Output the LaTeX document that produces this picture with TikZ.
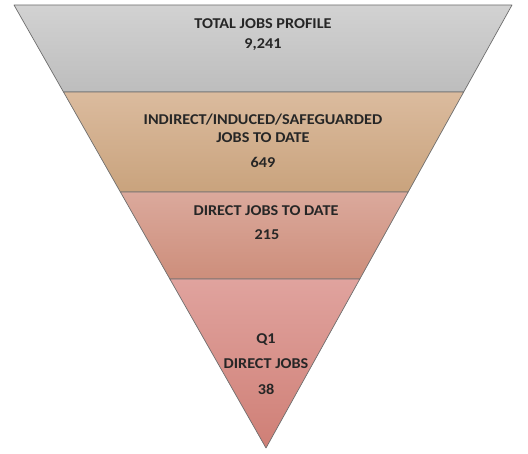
\documentclass[tikz,border=0pt]{standalone}
\usepackage{fontspec}
\setmainfont{Carlito}
\usetikzlibrary{calc}

\definecolor{grayTop}{HTML}{D2D2D2}
\definecolor{grayBot}{HTML}{BDBDBD}
\definecolor{tanTop}{HTML}{DBBB9E}
\definecolor{tanBot}{HTML}{C9A37D}
\definecolor{roseTop}{HTML}{DBA99C}
\definecolor{roseBot}{HTML}{CD8E7B}
\definecolor{pinkTop}{HTML}{E0A39E}
\definecolor{pinkBot}{HTML}{CF7F76}
\definecolor{edgeGray}{HTML}{6E6E6E}

\tikzset{
  band/.style={draw=edgeGray, line width=0.7pt, line join=round},
  lbl/.style={font=\bfseries\fontsize{15}{17}\selectfont, text=black!85, inner sep=0pt, align=center, xscale=1.08, transform shape}
}

\begin{document}
\begin{tikzpicture}[x=1pt,y=-1pt]
    \useasboundingbox (0,0) rectangle (528,454);

    \coordinate (TL) at (14,5);
    \coordinate (TR) at (512,5);
    \coordinate (V) at (266,448);

    \coordinate (L1) at ($(TL)!0.1964!(V)$);
    \coordinate (R1) at ($(TR)!0.1964!(V)$);
    \coordinate (L2) at ($(TL)!0.4221!(V)$);
    \coordinate (R2) at ($(TR)!0.4221!(V)$);
    \coordinate (L3) at ($(TL)!0.6185!(V)$);
    \coordinate (R3) at ($(TR)!0.6185!(V)$);

    % bands, top to bottom
    \path [band, top color=grayTop, bottom color=grayBot] (TL) -- (TR) -- (R1) -- (L1) -- cycle;
    \path [band, top color=tanTop, bottom color=tanBot] (L1) -- (R1) -- (R2) -- (L2) -- cycle;
    \path [band, top color=roseTop, bottom color=roseBot] (L2) -- (R2) -- (R3) -- (L3) -- cycle;
    \path [band, top color=pinkTop, bottom color=pinkBot] (L3) -- (R3) -- (V) -- cycle;

    \node [lbl] (total) at (263,24) {TOTAL JOBS PROFILE};
    \node [lbl] (totalN) at (263,45) {9,241};

    \node [lbl] (indirect) at (263,120) {INDIRECT/INDUCED/SAFEGUARDED};
    \node [lbl] (indirectB) at (263,138) {JOBS TO DATE};
    \node [lbl] (indirectN) at (263,162) {649};

    \node [lbl] (direct) at (266,211) {DIRECT JOBS TO DATE};
    \node [lbl] (directN) at (267,235) {215};

    \node [lbl] (qone) at (266,340) {Q1};
    \node [lbl] (qoneB) at (266,364) {DIRECT JOBS};
    \node [lbl] (qoneN) at (266,389) {38};
\end{tikzpicture}
\end{document}
